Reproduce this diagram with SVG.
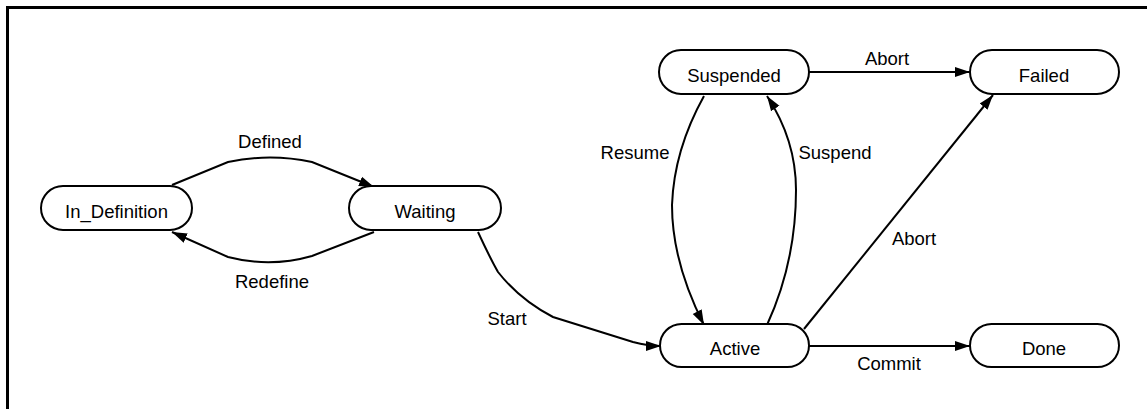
<svg xmlns="http://www.w3.org/2000/svg" width="1147" height="409" viewBox="0 0 1147 409">
<style>
.node{fill:#fff;stroke:#000;stroke-width:2}
.lbl{font-family:"Liberation Sans",Arial,sans-serif;font-size:18.5px;fill:#000;text-anchor:middle}
.edge{fill:none;stroke:#000;stroke-width:2;marker-end:url(#arr)}
</style>
<defs>
<marker id="arr" markerUnits="userSpaceOnUse" markerWidth="16" markerHeight="12" refX="15" refY="6" orient="auto">
<path d="M0,1 L15,6 L0,11 z" fill="#000"/>
</marker>
</defs>
<rect width="1147" height="409" fill="#fff"/>
<path d="M7.5,409 L7.5,7.5 L1147,7.5" fill="none" stroke="#000" stroke-width="3"/>
<g id="connectors">
<path class="edge" d="M172,185 L228,162 Q270,153 312,162 L374,187"/>
<path class="edge" d="M374,232 L312,256 Q270,268 228,257 L172,232"/>
<path class="edge" d="M478,232 Q490,258 498,272 Q520,300 553,317 L633,342 Q648,346 661,346"/>
<path class="edge" d="M704,96 Q674,150 672,205 Q672,262 704,325"/>
<path class="edge" d="M767,325 Q796,262 796,190 Q796,140 767,96"/>
<path class="edge" d="M809,72 L970,72"/>
<path class="edge" d="M804,329 L993,95"/>
<path class="edge" d="M809,346 L970,346"/>
<text class="lbl" x="270" y="148">Defined</text>
<text class="lbl" x="272" y="288">Redefine</text>
<text class="lbl" x="507" y="325">Start</text>
<text class="lbl" x="635" y="159">Resume</text>
<text class="lbl" x="835" y="159">Suspend</text>
<text class="lbl" x="887" y="65">Abort</text>
<text class="lbl" x="914" y="245">Abort</text>
<text class="lbl" x="889" y="370">Commit</text>
</g>
<g id="in_definition"><rect class="node" x="41" y="186" width="151" height="44" rx="22"/><text class="lbl" x="116.5" y="218">In_Definition</text></g>
<g id="waiting"><rect class="node" x="349" y="186" width="152" height="44" rx="22"/><text class="lbl" x="425" y="218">Waiting</text></g>
<g id="suspended"><rect class="node" x="659" y="50" width="150" height="44" rx="22"/><text class="lbl" x="734" y="82">Suspended</text></g>
<g id="failed"><rect class="node" x="970" y="50" width="149" height="44" rx="22"/><text class="lbl" x="1044" y="82">Failed</text></g>
<g id="active"><rect class="node" x="660" y="324" width="149" height="43" rx="21.5"/><text class="lbl" x="735" y="355">Active</text></g>
<g id="done"><rect class="node" x="970" y="324" width="149" height="43" rx="21.5"/><text class="lbl" x="1044" y="355">Done</text></g>
</svg>
